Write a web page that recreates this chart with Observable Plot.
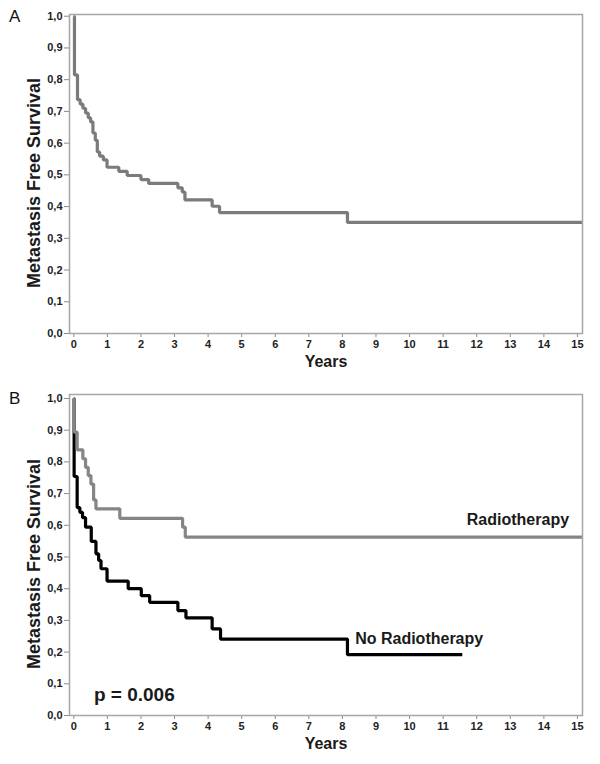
<!DOCTYPE html>
<html><head><meta charset="utf-8">
<script src="https://cdn.jsdelivr.net/npm/d3@7"></script>
<script src="https://cdn.jsdelivr.net/npm/@observablehq/plot@0.6"></script>
<style>
body{margin:0;background:#fff;font-family:"Liberation Sans",Arial,sans-serif;}
#wrap{position:relative;width:600px;}
.panel{position:absolute;font-size:17px;color:#111;line-height:1;}
svg{display:block}
</style></head><body>
<div id="wrap">
<div id="chartA"></div>
<div id="chartB"></div>
<div class="panel" style="left:9px;top:8px">A</div>
<div class="panel" style="left:9px;top:390px">B</div>
</div>
<script>
// Tick labels
const yTicks = [0, 0.1, 0.2, 0.3, 0.4, 0.5, 0.6, 0.7, 0.8, 0.9, 1.0];
const xTicks = [0, 1, 2, 3, 4, 5, 6, 7, 8, 9, 10, 11, 12, 13, 14, 15];

// Panel A: all patients
const timesA = [0, 0.02, 0.11, 0.19, 0.27, 0.35, 0.43, 0.50, 0.57, 0.64, 0.70, 0.77, 0.88, 0.99, 1.34, 1.59, 2.0, 2.23, 3.1, 3.23, 3.31, 4.12, 4.34, 8.15, 15.2];
const survA  = [1.0, 0.815, 0.737, 0.723, 0.710, 0.695, 0.680, 0.667, 0.632, 0.609, 0.572, 0.559, 0.547, 0.524, 0.511, 0.498, 0.485, 0.473, 0.459, 0.446, 0.421, 0.401, 0.381, 0.350, 0.350];

// Panel B: Radiotherapy
const timesRT = [0, 0.01, 0.1, 0.27, 0.35, 0.43, 0.51, 0.59, 0.66, 1.37, 3.24, 3.32, 15.2];
const survRT  = [1.0, 0.894, 0.838, 0.81, 0.783, 0.757, 0.73, 0.68, 0.652, 0.622, 0.594, 0.563, 0.563];

// Panel B: No Radiotherapy
const timesNoRT = [0, 0.01, 0.1, 0.18, 0.26, 0.35, 0.52, 0.66, 0.74, 0.81, 0.99, 1.62, 2.01, 2.26, 3.1, 3.34, 4.12, 4.37, 8.15, 11.57];
const survNoRT  = [1.0, 0.754, 0.656, 0.641, 0.624, 0.594, 0.549, 0.510, 0.489, 0.463, 0.424, 0.400, 0.378, 0.357, 0.331, 0.308, 0.273, 0.241, 0.192, 0.192];

const groupLabels = ["Radiotherapy", "No Radiotherapy"];
const pText = "p = 0.006";
const yTitle = "Metastasis Free Survival";
const xTitle = "Years";

const rows = (ts, ss) => ts.map((t, i) => ({t, s: ss[i]}));
const dataA = rows(timesA, survA);
const dataRT = rows(timesRT, survRT);
const dataNoRT = rows(timesNoRT, survNoRT);

const fmt = d => d.toFixed(1).replace(".", ",");
const font = '"Liberation Sans", Arial, sans-serif';

function baseMarks() {
  return [
    Plot.axisY({ticks: yTicks, tickFormat: fmt, tickSize: 5, tickPadding: 2, stroke: "#8a8a8a", fill: "#222", fontSize: 11, fontWeight: "bold", label: null}),
    Plot.axisX({ticks: xTicks, tickFormat: d => String(d), tickSize: 4, tickPadding: 3, stroke: "#8a8a8a", fill: "#222", fontSize: 11, fontWeight: "bold", label: null}),
    Plot.text([yTitle], {frameAnchor: "left", textAnchor: "middle", rotate: -90, dx: -35, dy: 9, fontSize: 18, fontWeight: "bold", fill: "#1a1a1a"}),
    Plot.text([xTitle], {frameAnchor: "bottom", textAnchor: "middle", dy: 33, fontSize: 16, fontWeight: "bold", fill: "#1a1a1a"})
  ];
}

const chartA = Plot.plot({
  width: 600, height: 382,
  marginLeft: 69, marginRight: 18, marginTop: 14, marginBottom: 49,
  x: {domain: [-0.128, 15.15]},
  y: {domain: [0, 1.0054]},
  style: {fontFamily: font, background: "white", overflow: "visible"},
  marks: [
    ...baseMarks(),
    Plot.line(dataA, {x: "t", y: "s", curve: "step-after", stroke: "#7b7b7b", strokeWidth: 3.2, strokeLinejoin: "miter", strokeLinecap: "butt", clip: true}),
    Plot.frame({stroke: "#a6a6a6", strokeWidth: 1.5})
  ]
});
document.getElementById("chartA").append(chartA);

const chartB = Plot.plot({
  width: 600, height: 382,
  marginLeft: 69, marginRight: 18, marginTop: 12, marginBottom: 49,
  x: {domain: [-0.128, 15.15]},
  y: {domain: [0, 1.0126]},
  style: {fontFamily: font, background: "white", overflow: "visible"},
  marks: [
    ...baseMarks(),
    Plot.line(dataNoRT, {x: "t", y: "s", curve: "step-after", stroke: "#000", strokeWidth: 3.2, strokeLinejoin: "miter", strokeLinecap: "butt", clip: true}),
    Plot.line(dataRT, {x: "t", y: "s", curve: "step-after", stroke: "#858585", strokeWidth: 3.2, strokeLinejoin: "miter", strokeLinecap: "butt", clip: true}),
    Plot.text([groupLabels[0]], {x: () => 14.75, y: () => 0.617, textAnchor: "end", fontSize: 16, fontWeight: "bold", fill: "#1a1a1a"}),
    Plot.text([groupLabels[1]], {x: () => 8.38, y: () => 0.243, textAnchor: "start", fontSize: 16, fontWeight: "bold", fill: "#1a1a1a"}),
    Plot.text([pText], {x: () => 0.6, y: () => 0.066, textAnchor: "start", fontSize: 19, fontWeight: "bold", fill: "#1a1a1a"}),
    Plot.frame({stroke: "#a6a6a6", strokeWidth: 1.5})
  ]
});
document.getElementById("chartB").append(chartB);
</script>
</body></html>
